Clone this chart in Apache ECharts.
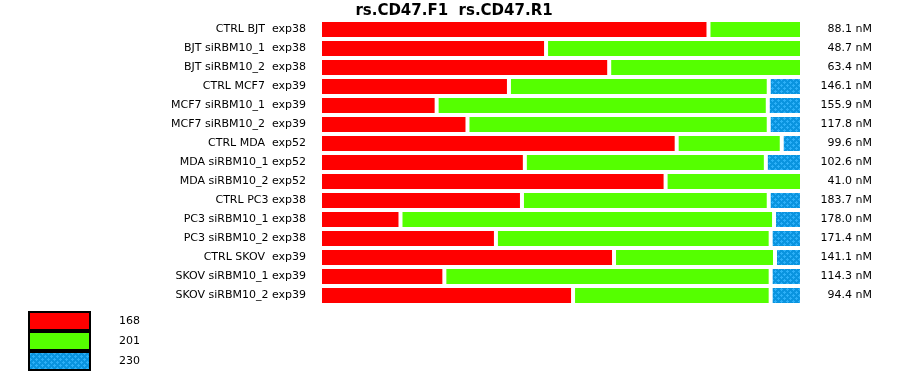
<!DOCTYPE html>
<html>
<head>
<meta charset="utf-8">
<script src="https://cdn.jsdelivr.net/npm/echarts@6/dist/echarts.min.js"></script>
<style>html,body{margin:0;padding:0;background:#fff;}#c{width:900px;height:375px;}</style>
</head>
<body>
<div id="c"></div>
<script>
var categories = [
  "CTRL BJT  exp38", "BJT siRBM10_1  exp38", "BJT siRBM10_2  exp38",
  "CTRL MCF7  exp39", "MCF7 siRBM10_1  exp39", "MCF7 siRBM10_2  exp39",
  "CTRL MDA  exp52", "MDA siRBM10_1 exp52", "MDA siRBM10_2 exp52",
  "CTRL PC3 exp38", "PC3 siRBM10_1 exp38", "PC3 siRBM10_2 exp38",
  "CTRL SKOV  exp39", "SKOV siRBM10_1 exp39", "SKOV siRBM10_2 exp39"
];
var concLabels = ["88.1 nM","48.7 nM","63.4 nM","146.1 nM","155.9 nM","117.8 nM","99.6 nM","102.6 nM","41.0 nM","183.7 nM","178.0 nM","171.4 nM","141.1 nM","114.3 nM","94.4 nM"];
var seriesNames = ["168", "201", "230"];
var s168 = [80.6, 46.9, 60.0, 39.2, 24.2, 30.6, 74.0, 42.5, 71.7, 41.9, 16.7, 36.5, 61.0, 25.8, 52.5];
var s201 = [19.4, 53.1, 40.0, 53.9, 68.7, 62.5, 21.8, 50.0, 28.3, 51.2, 77.5, 57.0, 33.4, 67.7, 41.0];
var s230 = [0, 0, 0, 6.9, 7.1, 6.9, 4.2, 7.5, 0, 6.9, 5.8, 6.5, 5.6, 6.5, 6.5];

function makePattern() {
  var cv = document.createElement('canvas');
  cv.width = 6; cv.height = 6;
  var ctx = cv.getContext('2d');
  ctx.fillStyle = '#0a94df';
  ctx.fillRect(0, 0, 6, 6);
  ctx.fillStyle = '#2db0f8';
  function cross(x, y) {
    ctx.fillRect(x - 1, y, 3, 1);
    ctx.fillRect(x, y - 1, 1, 3);
  }
  cross(1, 1);
  cross(4, 4);
  return cv;
}
var patternFill = { image: makePattern(), repeat: 'repeat' };
var colors = ['#ff0000', '#55ff00', patternFill];

function prep(arr) { return arr.map(function (v) { return v === 0 ? '-' : v; }); }
var allData = [s168, s201, s230];

var chart = echarts.init(document.getElementById('c'), null, { renderer: 'canvas' });
chart.setOption({
  animation: false,
  title: {
    text: 'rs.CD47.F1  rs.CD47.R1',
    left: 449, top: -1, textAlign: 'center',
    textStyle: { fontFamily: 'DejaVu Sans', fontSize: 15, fontWeight: 'bold', color: '#000' }
  },
  legend: {
    orient: 'vertical', left: 28, top: 311, padding: 0, itemGap: 0,
    itemWidth: 61, itemHeight: 18,
    icon: 'rect',
    itemStyle: { borderColor: '#000', borderWidth: 2 },
    textStyle: { fontFamily: 'DejaVu Sans', fontSize: 11, color: '#000', padding: [0, 0, 0, 24] },
    data: seriesNames
  },
  grid: { left: 320, right: 98, top: 20, height: 285, containLabel: false },
  xAxis: { type: 'value', min: 0, max: 100, show: false },
  yAxis: [{
    type: 'category', data: categories, inverse: true,
    axisLine: { show: false }, axisTick: { show: false },
    axisLabel: { fontFamily: 'DejaVu Sans', fontSize: 11, color: '#000', margin: 14 }
  }, {
    type: 'category', data: concLabels, inverse: true, position: 'right',
    axisLine: { show: false }, axisTick: { show: false },
    axisLabel: { fontFamily: 'DejaVu Sans', fontSize: 11, color: '#000', align: 'right', margin: 70 }
  }],
  series: seriesNames.map(function (n, i) {
    return {
      name: n, type: 'bar', stack: 'a', yAxisIndex: 0,
      barWidth: 19,
      data: prep(allData[i]),
      itemStyle: { color: colors[i], borderColor: '#fff', borderWidth: 2 },
      emphasis: { disabled: true }
    };
  })
});
</script>
</body>
</html>
